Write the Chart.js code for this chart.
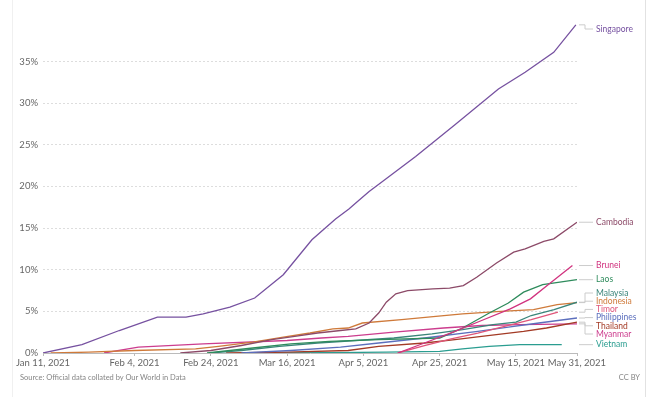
<!DOCTYPE html>
<html>
<head>
<meta charset="utf-8">
<script src="https://cdn.jsdelivr.net/npm/chart.js@4.4.1/dist/chart.umd.min.js"></script>
<style>
html, body { margin: 0; padding: 0; background: #fff; }
#wrap { position: relative; width: 660px; height: 397px; font-family: Lato, sans-serif; }
#frame { position: absolute; left: 12px; top: 0; width: 634px; height: 397px; box-sizing: border-box;
         border-left: 1px solid #f0f0f0; border-right: 1px solid #e2e2e2; }
#chart { position: absolute; left: 0; top: 0; }
.note { position: absolute; top: 373px; font-size: 7.5px; color: #858585; }
</style>
</head>
<body>
<div id="wrap">
  <div id="frame"></div>
  <canvas id="chart" width="660" height="397"></canvas>
  <div class="note" style="left:20px;">Source: Official data collated by Our World in Data</div>
  <div class="note" style="right:20px;">CC BY</div>
</div>
<script>
// x = days since Jan 11, 2021, y = share of people with at least one dose (%)
const tickDays = [0, 24, 44, 64, 84, 104, 124, 140];
const tickLabels = ['Jan 11, 2021', 'Feb 4, 2021', 'Feb 24, 2021', 'Mar 16, 2021',
                    'Apr 5, 2021', 'Apr 25, 2021', 'May 15, 2021', 'May 31, 2021'];

const singapore = [[0, 0], [10.2, 1.0], [20, 2.7], [30, 4.3], [37.5, 4.3], [42, 4.7], [49, 5.5],
  [55.5, 6.6], [63, 9.4], [70.5, 13.6], [76.7, 16.1], [80.2, 17.3], [82, 18.0], [85.5, 19.4],
  [89, 20.6], [97.7, 23.6], [108, 27.4], [119.4, 31.7], [126.4, 33.7], [133.9, 36.1], [139.7, 39.4]];
const cambodia = [[36, 0], [44, 0.3], [52, 0.9], [60, 1.6], [66, 2.0], [72, 2.4], [78, 2.7],
  [82, 2.9], [85.5, 3.6], [88, 4.8], [90, 6.1], [92.5, 7.1], [95.6, 7.5], [102.2, 7.7], [106.6, 7.8],
  [110.2, 8.1], [113.7, 9.1], [118.9, 10.8], [123.4, 12.1], [126.4, 12.5], [131.3, 13.4],
  [133.9, 13.7], [140, 15.7]];
const brunei = [[93, 0], [100, 1.2], [108, 2.6], [115, 3.9], [122.5, 5.3], [127.8, 6.5],
  [133, 8.4], [138.8, 10.5]];
const laos = [[43, 0], [55, 0.6], [65, 1.1], [75, 1.4], [88, 1.6], [104, 1.8], [110, 3.0],
  [117, 4.8], [122, 6.0], [126, 7.3], [131, 8.2], [140, 8.8]];
const malaysia = [[44, 0], [52, 0.3], [62, 0.8], [72, 1.2], [82, 1.5], [92, 1.8], [102, 2.3],
  [110, 2.8], [118, 3.4], [124, 3.7], [128, 4.5], [134, 5.2], [140, 6.1]];
const indonesia = [[2, 0], [12, 0.1], [24, 0.3], [40, 0.5], [46, 0.8], [55, 1.3], [63, 1.9],
  [70, 2.4], [76, 2.9], [80, 3.0], [83.7, 3.6], [94, 4.0], [103, 4.4], [110, 4.7], [120, 5.0],
  [128.6, 5.2], [134.8, 5.8], [140, 6.05]];
const timor = [[93, 0], [100, 0.9], [107, 1.7], [114, 2.4], [121, 3.2], [128, 4.0], [135, 4.9]];
const philippines = [[52, 0], [65, 0.3], [78, 0.7], [88, 1.2], [100, 1.8], [114, 2.6],
  [122, 3.1], [130, 3.6], [140, 4.2]];
const thailand = [[48, 0], [64, 0.1], [80, 0.3], [88, 0.8], [100, 1.2], [108, 1.6], [115, 2.0],
  [126, 2.6], [132, 3.0], [140, 3.7]];
const myanmar = [[16, 0], [25, 0.7], [42, 1.1], [64, 1.5], [73, 1.8], [80, 2.0], [92, 2.5],
  [105, 3.0], [115, 3.3], [125, 3.4], [140, 3.5]];
const vietnam = [[56, 0], [75, 0.05], [90, 0.1], [104, 0.2], [110, 0.5], [117, 0.8],
  [125, 1.0], [136, 1.0]];

const countries = [
  { name: 'Singapore', color: '#7651a0', data: singapore },
  { name: 'Cambodia', color: '#8c4a68', data: cambodia },
  { name: 'Brunei', color: '#d1337f', data: brunei },
  { name: 'Laos', color: '#2e8b5c', data: laos },
  { name: 'Malaysia', color: '#3a857a', data: malaysia },
  { name: 'Indonesia', color: '#cf7a3a', data: indonesia },
  { name: 'Timor', color: '#e0557a', data: timor },
  { name: 'Philippines', color: '#5c6fbd', data: philippines },
  { name: 'Thailand', color: '#a33a25', data: thailand },
  { name: 'Myanmar', color: '#cc3d8e', data: myanmar },
  { name: 'Vietnam', color: '#2a9d90', data: vietnam }
];

// country names at the end of each line, spread apart when they collide
const endLabels = {
  id: 'endLabels',
  afterDatasetsDraw(chart) {
    const { ctx, chartArea, scales: { y } } = chart;
    const gap = 8.2;
    const items = chart.data.datasets.map(ds => {
      const last = ds.data[ds.data.length - 1];
      return { name: ds.label, color: ds.borderColor, yData: y.getPixelForValue(last.y) };
    }).sort((a, b) => a.yData - b.yData);

    let groups = items.map(it => ({ items: [it], top: it.yData }));
    let merged = true;
    while (merged) {
      merged = false;
      for (let i = 1; i < groups.length; i++) {
        const prev = groups[i - 1], cur = groups[i];
        if (prev.top + prev.items.length * gap > cur.top) {
          const all = prev.items.concat(cur.items);
          const mean = all.reduce((s, it) => s + it.yData, 0) / all.length;
          groups.splice(i - 1, 2, { items: all, top: mean - (all.length - 1) * gap / 2 });
          merged = true;
          break;
        }
      }
    }
    groups.forEach(g => {
      g.top = Math.max(g.top, chartArea.top + 5);
      g.items.forEach((it, k) => { it.yLabel = g.top + k * gap; });
    });

    const x0 = chartArea.right + 2;
    ctx.save();
    ctx.strokeStyle = '#cccccc';
    ctx.lineWidth = 1;
    ctx.font = '8.5px Lato';
    ctx.textBaseline = 'middle';
    items.forEach(it => {
      ctx.beginPath();
      ctx.moveTo(x0, it.yData);
      ctx.lineTo(x0 + 6, it.yData);
      ctx.lineTo(x0 + 6, it.yLabel);
      ctx.lineTo(x0 + 14, it.yLabel);
      ctx.stroke();
      ctx.fillStyle = it.color;
      ctx.fillText(it.name, x0 + 17, it.yLabel);
    });
    ctx.restore();
  }
};

new Chart(document.getElementById('chart'), {
  type: 'line',
  data: {
    datasets: countries.map(c => ({
      label: c.name,
      data: c.data.map(p => ({ x: p[0], y: p[1] })),
      borderColor: c.color, borderWidth: 1.3,
      pointRadius: 0, fill: false, tension: 0
    }))
  },
  options: {
    responsive: false, animation: false,
    layout: { padding: { left: 0, right: 83, top: 24, bottom: 26 } },
    plugins: { legend: { display: false }, tooltip: { enabled: false } },
    scales: {
      x: {
        type: 'linear', min: 0, max: 140,
        afterBuildTicks: s => { s.ticks = tickDays.map(v => ({ value: v })); },
        afterFit: s => { s.height = 18; },
        grid: { drawOnChartArea: false, color: '#bbbbbb', tickLength: 3 },
        border: { color: '#bbbbbb' },
        ticks: {
          autoSkip: false, maxRotation: 0, padding: 1, color: '#666',
          font: { family: 'Lato', size: 9.5 },
          callback: v => tickLabels[tickDays.indexOf(v)]
        }
      },
      y: {
        min: 0, max: 39.5,
        afterFit: s => { s.width = 43; },
        grid: { color: '#dddddd', drawTicks: false },
        border: { display: false, dash: [2, 2] },
        ticks: {
          stepSize: 5, includeBounds: false, padding: 5, color: '#666',
          font: { family: 'Lato', size: 9.5 },
          callback: v => v + '%'
        }
      }
    }
  },
  plugins: [endLabels]
});
</script>
</body>
</html>
